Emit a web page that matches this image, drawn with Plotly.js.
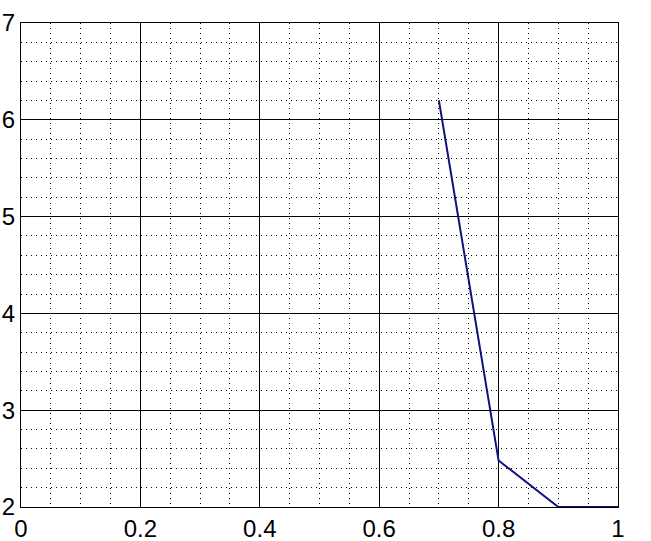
<!DOCTYPE html>
<html>
<head>
<meta charset="utf-8">
<script src="https://cdn.plot.ly/plotly-3.0.1.min.js"></script>
<style>
  html, body { margin: 0; padding: 0; background: #fff; }
  #plot { width: 651px; height: 541px; }
</style>
</head>
<body>
<div id="plot"></div>
<script>
// values
var xVals = [0.7, 0.8, 0.9, 1.0];
var yVals = [6.2, 2.48, 2.0, 2.0];
var xTicks = [0, 0.2, 0.4, 0.6, 0.8, 1];
var xTickText = ["0", "0.2", "0.4", "0.6", "0.8", "1"];
var yTicks = [2, 3, 4, 5, 6, 7];

var trace = {
    type: "scatter",
    mode: "lines",
    x: xVals,
    y: yVals,
    line: {color: "#10107f", width: 2},
    showlegend: false,
    hoverinfo: "x+y"
};

var layout = {
    width: 651,
    height: 541,
    margin: {l: 21, r: 33, t: 23, b: 34},
    paper_bgcolor: "#fff",
    plot_bgcolor: "#fff",
    font: {family: "Arial, Liberation Sans, sans-serif", color: "#000", size: 24},
    xaxis: {
        range: [0, 1],
        tickvals: xTicks,
        ticktext: xTickText,
        ticks: "",
        showgrid: true,
        gridcolor: "#000",
        gridwidth: 1,
        zeroline: false,
        showline: true,
        linecolor: "#000",
        linewidth: 1,
        mirror: true,
        automargin: false,
        ticklabelstandoff: 0,
        minor: {dtick: 0.05, showgrid: true, gridcolor: "#000", gridwidth: 1, griddash: "1px,4px"}
    },
    yaxis: {
        range: [2, 7],
        tickvals: yTicks,
        ticks: "",
        showgrid: true,
        gridcolor: "#000",
        gridwidth: 1,
        zeroline: false,
        showline: true,
        linecolor: "#000",
        linewidth: 1,
        mirror: true,
        automargin: false,
        ticklabelstandoff: 0,
        minor: {dtick: 0.2, showgrid: true, gridcolor: "#000", gridwidth: 1, griddash: "1px,4px"}
    }
};

Plotly.newPlot("plot", [trace], layout, {displayModeBar: false, staticPlot: true});
</script>
</body>
</html>
